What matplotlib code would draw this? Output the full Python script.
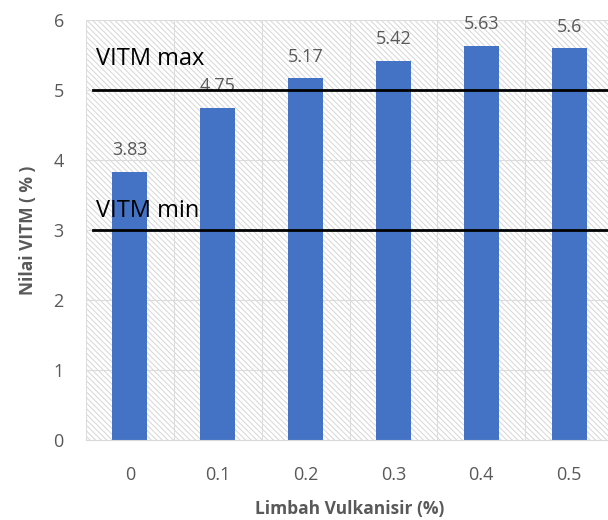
import matplotlib
matplotlib.use("Agg")
import matplotlib.pyplot as plt
from matplotlib.patches import Rectangle

categories = ["0", "0.1", "0.2", "0.3", "0.4", "0.5"]
vitm = [3.83, 4.75, 5.17, 5.42, 5.63, 5.6]
vitm_max = 5.0
vitm_min = 3.0
y_ticks = [0, 1, 2, 3, 4, 5, 6]

plt.rcParams["font.family"] = ["Open Sans", "DejaVu Sans"]
plt.rcParams["hatch.linewidth"] = 0.7
plt.rcParams["hatch.color"] = "#d6d6d6"

grey = "#595959"
fig = plt.figure(figsize=(6.08, 5.2), dpi=100)
ax = fig.add_axes([86 / 608, 80 / 520, 527 / 608, 420 / 520])

x = list(range(len(categories)))
ax.set_xlim(-0.5, len(categories) - 0.5)
ax.set_ylim(0, 6)

# hatched plot-area background
ax.add_patch(Rectangle((0, 0), 1, 1, transform=ax.transAxes, facecolor="white",
                       edgecolor="#d6d6d6", hatch="\\" * 6, linewidth=0, zorder=0))

# gridlines
for yv in y_ticks:
    ax.axhline(yv, color="#dcdcdc", linewidth=0.8, zorder=0.5)
for i in range(len(categories) + 1):
    ax.axvline(i - 0.5, color="#dcdcdc", linewidth=0.8, zorder=0.5)

bars = ax.bar(x, vitm, width=0.4, color="#4472C4", zorder=2)
for xi, v in zip(x, vitm):
    ax.annotate(f"{v:g}", (xi, v), xytext=(0, 9), textcoords="offset points",
                ha="center", va="bottom", fontsize=13, color=grey, zorder=3)

ax.axhline(vitm_max, xmin=7 / 527, xmax=1, color="black", linewidth=2, zorder=3)
ax.axhline(vitm_min, xmin=7 / 527, xmax=1, color="black", linewidth=2, zorder=3)
ax.text(-0.39, vitm_max + 0.36, "VITM max", fontsize=17, color="black",
        ha="left", va="baseline", zorder=4)
ax.text(-0.39, vitm_min + 0.19, "VITM min", fontsize=17, color="black",
        ha="left", va="baseline", zorder=4)

ax.set_xticks(x)
ax.set_xticklabels(categories)
ax.set_yticks(y_ticks)
ax.tick_params(axis="both", length=0, labelsize=13, labelcolor=grey)
ax.tick_params(axis="x", pad=19)
ax.tick_params(axis="y", pad=16)
for s in ["top", "right", "left"]:
    ax.spines[s].set_visible(False)
ax.spines["bottom"].set_color("#d9d9d9")
ax.spines["bottom"].set_zorder(2.5)

ax.set_xlabel("Limbah Vulkanisir (%)", fontsize=12.5, fontweight="bold",
              color=grey, labelpad=11)
ax.set_ylabel("Nilai VITM ( % )", fontsize=12.5, fontweight="bold",
              color=grey, labelpad=12)

fig.savefig("out.png", dpi=100)
